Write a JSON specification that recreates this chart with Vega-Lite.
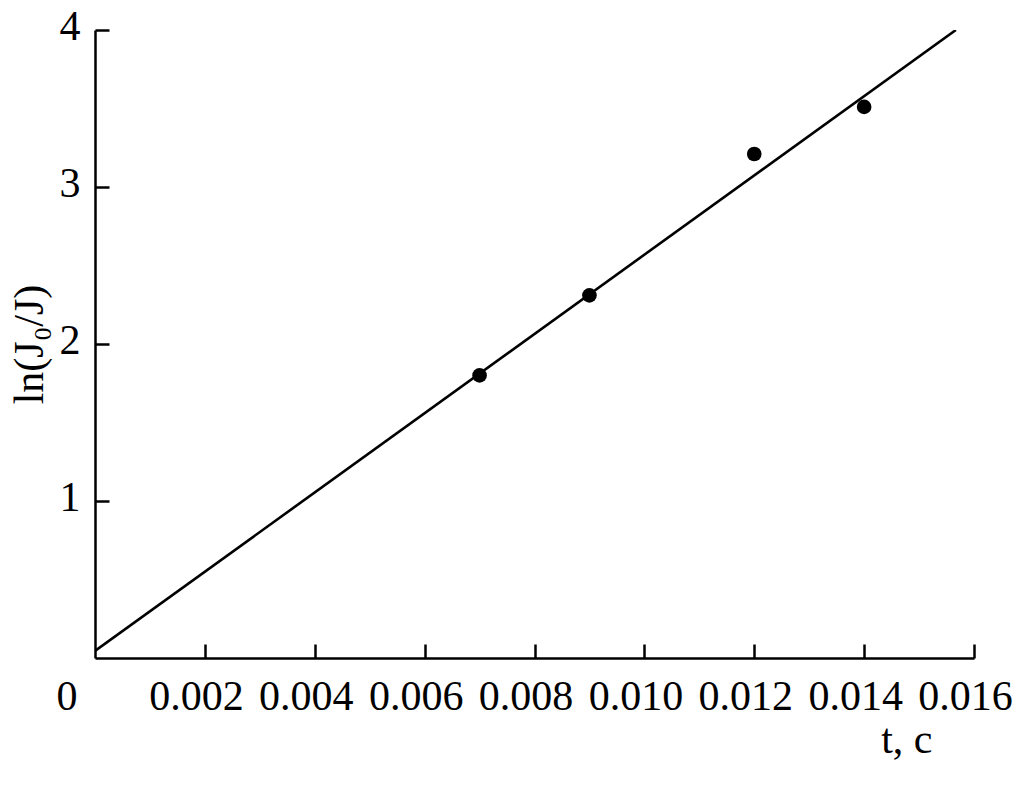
{
  "$schema": "https://vega.github.io/schema/vega-lite/v6.json",
  "width": 879,
  "height": 628,
  "autosize": {"type": "none"},
  "padding": {"left": 95, "top": 30, "right": 40, "bottom": 127},
  "background": "white",
  "config": {
    "view": {"stroke": null},
    "font": "Liberation Serif",
    "axis": {
      "grid": false,
      "domainColor": "black",
      "domainWidth": 2.5,
      "tickColor": "black",
      "tickWidth": 2.5,
      "tickSize": -14,
      "labelFont": "Liberation Serif",
      "labelFontSize": 42,
      "labelColor": "black",
      "titleFont": "Liberation Serif",
      "titleFontSize": 42,
      "titleFontWeight": "normal",
      "titleColor": "black"
    }
  },
  "datasets": {
    "points": [
      {"t": 0.007, "y": 1.80},
      {"t": 0.009, "y": 2.31},
      {"t": 0.012, "y": 3.21},
      {"t": 0.014, "y": 3.51}
    ],
    "fit": [
      {"t": 0.0, "y": 0.045},
      {"t": 0.01567, "y": 4.0}
    ],
    "origin": [
      {"t": 0.0, "y": 0.0, "label": "0"}
    ]
  },
  "layer": [
    {
      "data": {"name": "fit"},
      "mark": {"type": "line", "color": "black", "strokeWidth": 2.6, "clip": true},
      "encoding": {
        "x": {
          "field": "t", "type": "quantitative",
          "scale": {"domain": [0, 0.016], "nice": false, "zero": false},
          "axis": {
            "values": [0.002, 0.004, 0.006, 0.008, 0.010, 0.012, 0.014, 0.016],
            "format": ".3f",
            "labelPadding": 32,
            "labelOffset": -9,
            "title": "t, с",
            "titleAnchor": "end",
            "titleAlign": "right",
            "titleBaseline": "alphabetic",
            "titleX": 837,
            "titleY": 94,
            "labelFlush": false
          }
        },
        "y": {
          "field": "y", "type": "quantitative",
          "scale": {"domain": [0, 4], "nice": false},
          "axis": {
            "values": [1, 2, 3, 4],
            "format": "d",
            "labelPadding": 29,
            "labelOffset": -4,
            "title": "ln(J₀/J)",
            "titlePadding": 8,
            "labelFlush": false
          }
        }
      }
    },
    {
      "data": {"name": "points"},
      "mark": {"type": "point", "filled": true, "color": "black", "size": 215, "opacity": 1, "shape": "circle"},
      "encoding": {
        "x": {"field": "t", "type": "quantitative"},
        "y": {"field": "y", "type": "quantitative"}
      }
    },
    {
      "data": {"name": "origin"},
      "mark": {"type": "text", "font": "Liberation Serif", "fontSize": 42, "color": "black", "dx": -28, "dy": 39, "align": "center", "baseline": "middle"},
      "encoding": {
        "x": {"field": "t", "type": "quantitative"},
        "y": {"field": "y", "type": "quantitative"},
        "text": {"field": "label"}
      }
    }
  ]
}
